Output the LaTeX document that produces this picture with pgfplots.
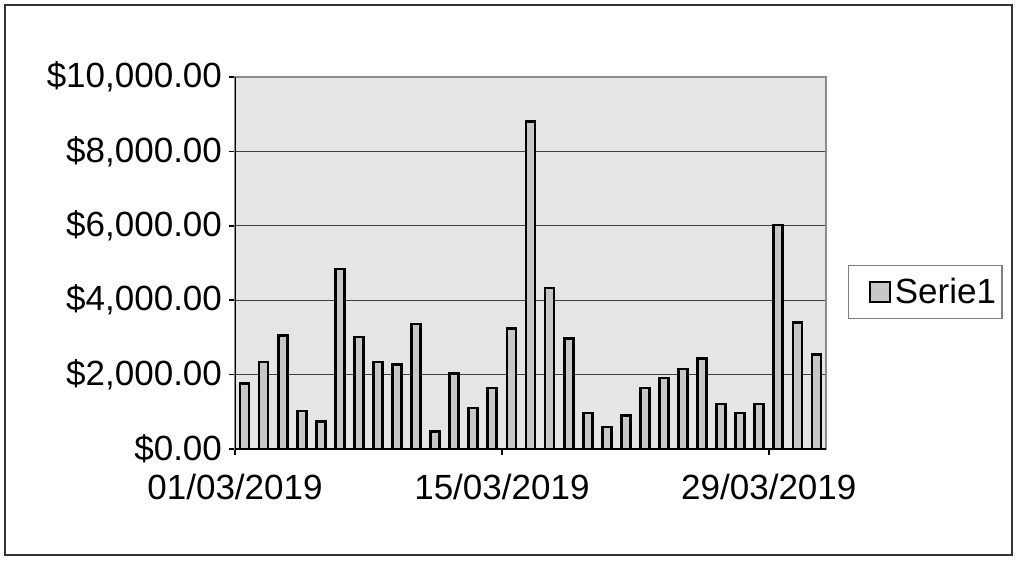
\documentclass[border=0pt]{standalone}
\usepackage{pgfplots}
\pgfplotsset{compat=1.18}
\usepackage{fontspec}
\setmainfont{Liberation Sans}
\begin{document}
\begin{tikzpicture}
\useasboundingbox (0,0) rectangle (508pt,281pt);
\draw[black!80, line width=0.8pt] (2.5pt,3.5pt) rectangle (506pt,278.5pt);
\begin{axis}[
  at={(117.5pt,56.5pt)}, anchor=south west,
  scale only axis, width=295.5pt, height=186pt,
  xmin=0, xmax=31, ymin=0, ymax=10000,
  scaled y ticks=false,
  axis background/.style={fill=black!10},
  axis line style={black!45, line width=0.6pt},
  ytick={0,2000,4000,6000,8000,10000},
  yticklabels={{\$0.00},{\$2,000.00},{\$4,000.00},{\$6,000.00},{\$8,000.00},{\$10,000.00}},
  xtick={0,14,28},
  xticklabels={{01/03/2019},{15/03/2019},{29/03/2019}},
  xtick pos=bottom, ytick pos=left,
  tick align=outside, major tick length=3pt,
  tick style={black, line width=0.8pt},
  ymajorgrids, grid style={black!75, line width=0.6pt},
  ticklabel style={font=\fontsize{17.5}{20}\selectfont},
  xticklabel style={yshift=-6pt},
  ybar, bar width=4.5pt,
  legend style={at={(1.037,0.422)}, anchor=west, draw=black!50, line width=0.6pt,
    font=\fontsize{17.5}{20}\selectfont, inner xsep=1pt, inner ysep=4pt},
  legend image code/.code={\path (0pt,0pt); \draw[fill=black!22, draw=black, line width=1pt] (9pt,-5pt) rectangle (19pt,5pt);},
]
\addplot[fill=black!22, draw=black, line width=1.4pt] coordinates {
(0.5,1770) (1.5,2340) (2.5,3060) (3.5,1020) (4.5,730) (5.5,4840) (6.5,3010)
(7.5,2340) (8.5,2280) (9.5,3360) (10.5,460) (11.5,2040) (12.5,1100) (13.5,1640)
(14.5,3230) (15.5,8800) (16.5,4330) (17.5,2980) (18.5,970) (19.5,590) (20.5,910)
(21.5,1640) (22.5,1910) (23.5,2150) (24.5,2440) (25.5,1210) (26.5,970) (27.5,1210)
(28.5,6020) (29.5,3390) (30.5,2550)
};
\addlegendentry{Serie1}
\draw[black, line width=1.2pt] (rel axis cs:0,0) -- (rel axis cs:0,1);
\draw[black, line width=1.2pt] (rel axis cs:0,0) -- (rel axis cs:1,0);
\end{axis}
\end{tikzpicture}
\end{document}
